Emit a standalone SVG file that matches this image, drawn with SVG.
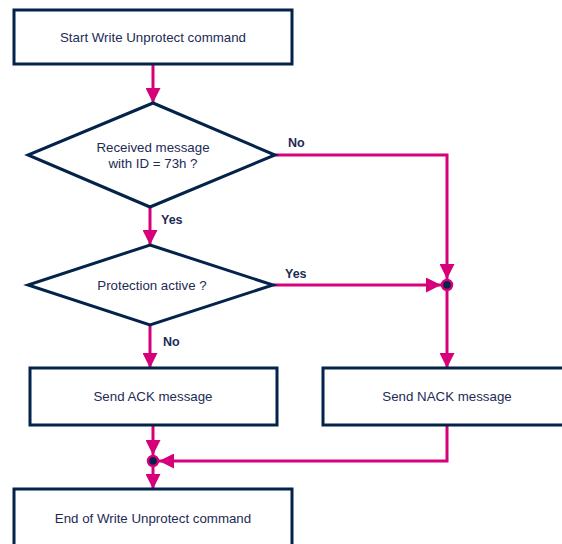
<svg xmlns="http://www.w3.org/2000/svg" width="562" height="544" viewBox="0 0 562 544">
<style>
.box{fill:#fff;stroke:#03234b;stroke-width:3}
.t{font-family:"Liberation Sans",Arial,sans-serif;font-size:13.3px;fill:#1d2b55;text-anchor:middle}
.lb{font-family:"Liberation Sans",Arial,sans-serif;font-size:12.5px;font-weight:bold;fill:#1d2b55}
.c{fill:none;stroke:#d6007a;stroke-width:3}
</style>
<defs>
<marker id="ah" viewBox="0 0 10 10" refX="10" refY="5" markerWidth="5" markerHeight="5" markerUnits="strokeWidth" orient="auto">
<path d="M0,0 L10,5 L0,10 z" fill="#d6007a"/>
</marker>
</defs>
<rect width="562" height="544" fill="#fff"/>
<g id="connectors">
<path class="c" d="M153,64 V103" marker-end="url(#ah)"/>
<path class="c" d="M275,155 H447 V279" marker-end="url(#ah)"/>
<path class="c" d="M150,207 V245" marker-end="url(#ah)"/>
<path class="c" d="M273,285 H441" marker-end="url(#ah)"/>
<path class="c" d="M447,290 V368" marker-end="url(#ah)"/>
<path class="c" d="M150,325 V368" marker-end="url(#ah)"/>
<path class="c" d="M153,425 V455" marker-end="url(#ah)"/>
<path class="c" d="M447,425 V461 H159" marker-end="url(#ah)"/>
<path class="c" d="M153,466 V489" marker-end="url(#ah)"/>
<text class="lb" x="288" y="147">No</text>
<text class="lb" x="161" y="224">Yes</text>
<text class="lb" x="285" y="278">Yes</text>
<text class="lb" x="163" y="346">No</text>
</g>
<g id="junction1"><circle cx="447" cy="285" r="5" fill="#03234b" stroke="#d6007a" stroke-width="2.5"/></g>
<g id="junction2"><circle cx="153" cy="461" r="5" fill="#03234b" stroke="#d6007a" stroke-width="2.5"/></g>
<g id="start">
<rect class="box" x="14" y="10" width="278" height="54"/>
<text class="t" x="153" y="42">Start Write Unprotect command</text>
</g>
<g id="decision1">
<polygon class="box" points="153,103 275,155 150,207 28,155"/>
<text class="t" x="153" y="152">Received message</text>
<text class="t" x="153" y="168">with ID = 73h ?</text>
</g>
<g id="decision2">
<polygon class="box" points="150,245 273,285 150,325 28,285"/>
<text class="t" x="152" y="290">Protection active ?</text>
</g>
<g id="ack">
<rect class="box" x="30" y="368" width="247" height="57"/>
<text class="t" x="153" y="401">Send ACK message</text>
</g>
<g id="nack">
<rect class="box" x="323" y="368" width="248" height="57"/>
<text class="t" x="447" y="401">Send NACK message</text>
</g>
<g id="end">
<rect class="box" x="14" y="489" width="278" height="60"/>
<text class="t" x="153" y="523">End of Write Unprotect command</text>
</g>
</svg>
